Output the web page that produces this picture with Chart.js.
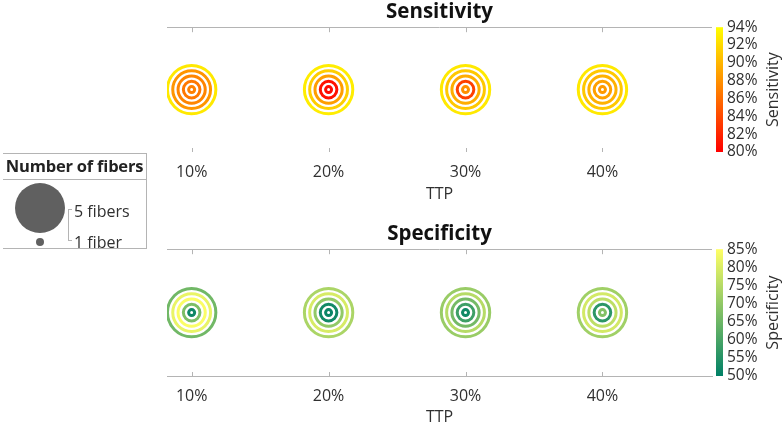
<!DOCTYPE html>
<html>
<head>
<meta charset="utf-8">
<script src="https://cdn.jsdelivr.net/npm/chart.js@4"></script>
<style>
  body { margin: 0; width: 784px; height: 427px; overflow: hidden; background: #fff; font-family: "Open Sans", sans-serif; }
  canvas { position: absolute; left: 0; }
  #sens { top: 0; }
  #spec { top: 222px; }
  #legend { position: absolute; left: 3px; top: 153px; width: 143px; height: 94px;
            border-top: 1px solid #b4b4b4; border-bottom: 1px solid #b4b4b4; border-right: 1px solid #b4b4b4; color: #222; }
  #legend .title { position: absolute; left: -3px; top: 2px; width: 149px; text-align: center; font-weight: bold; font-size: 16.5px; line-height: 20px; letter-spacing: -0.2px; }
  #legend .sep { position: absolute; left: 0; top: 25px; width: 143px; border-top: 1px solid #b4b4b4; }
  #legend .dot { position: absolute; background: #606060; border-radius: 50%; }
  #legend .bracket { position: absolute; left: 65px; top: 55px; width: 3px; height: 30px;
                     border: 1px solid #b4b4b4; border-right: none; }
  #legend .lab { position: absolute; left: 71px; font-size: 16px; line-height: 20px; color: #303030; }
</style>
</head>
<body>
<canvas id="sens" width="784" height="215"></canvas>
<canvas id="spec" width="784" height="205"></canvas>
<div id="legend">
  <div class="title">Number of fibers</div>
  <div class="sep"></div>
  <div class="dot" style="left:12px;top:29px;width:50px;height:50px;"></div>
  <div class="dot" style="left:33px;top:84px;width:8px;height:8px;"></div>
  <div class="bracket"></div>
  <div class="lab" style="top:47px;">5 fibers</div>
  <div class="lab" style="top:78px;">1 fiber</div>
</div>
<script>
const ttp = [10, 20, 30, 40];
const fibers = [1, 2, 3, 4, 5];

// sensitivity (%) per fiber count, one value per TTP
const sens1 = [87.0, 80.6, 87.9, 88.4];
const sens2 = [86.6, 81.0, 83.5, 88.8];
const sens3 = [87.3, 88.7, 89.5, 89.7];
const sens4 = [88.2, 91.3, 91.0, 91.0];
const sens5 = [92.8, 93.0, 92.8, 92.8];

// specificity (%) per fiber count, one value per TTP
const spec1 = [52.0, 51.5, 52.5, 68.0];
const spec2 = [67.0, 52.5, 58.5, 56.0];
const spec3 = [84.5, 70.0, 66.0, 76.0];
const spec4 = [82.0, 79.5, 75.0, 79.0];
const spec5 = [65.5, 73.5, 71.0, 72.0];

const sensTicks = [80, 82, 84, 86, 88, 90, 92, 94];
const specTicks = [50, 55, 60, 65, 70, 75, 80, 85];

const textColor = '#303030';
const lineColor = '#b4b4b4';
const font = '"Open Sans", sans-serif';

function autumn(t) {
  return 'rgb(255,' + Math.round(255 * t) + ',0)';
}
function summer(t) {
  return 'rgb(' + Math.round(255 * t) + ',' + Math.round(128 + 127 * t) + ',102)';
}
function ringRadius(n) {
  return 3 + (n - 1) * 5.3;
}

const colorbar = {
  id: 'colorbar',
  afterDraw(chart, args, opts) {
    const { ctx, chartArea, scales } = chart;
    const cb = scales.cb;
    const top = cb.getPixelForValue(cb.max);
    const bottom = cb.getPixelForValue(cb.min);
    const g = ctx.createLinearGradient(0, bottom, 0, top);
    g.addColorStop(0, opts.cmap(0));
    g.addColorStop(1, opts.cmap(1));
    ctx.save();
    ctx.fillStyle = g;
    ctx.fillRect(chartArea.right + 4, top, 7, bottom - top);

    // frame line on top and small inward ticks
    ctx.strokeStyle = lineColor;
    ctx.lineWidth = 1;
    ctx.beginPath();
    ctx.moveTo(chartArea.left, Math.round(chartArea.top) + 0.5);
    ctx.lineTo(chartArea.right, Math.round(chartArea.top) + 0.5);
    ttp.forEach(v => {
      const x = Math.round(scales.x.getPixelForValue(v)) + 0.5;
      ctx.moveTo(x, chartArea.top);
      ctx.lineTo(x, chartArea.top + 5);
      ctx.moveTo(x, chartArea.bottom);
      ctx.lineTo(x, chartArea.bottom - 4);
    });
    ctx.stroke();

    ctx.translate(773, (top + bottom) / 2);
    ctx.rotate(-Math.PI / 2);
    ctx.fillStyle = textColor;
    ctx.font = '16px ' + font;
    ctx.textAlign = 'center';
    ctx.textBaseline = 'middle';
    ctx.fillText(opts.title, 0, 0);
    ctx.restore();
  }
};

function makeConfig(title, rows, ticks, cmap, axisH, titlePad, showBottom) {
  const lo = ticks[0], hi = ticks[ticks.length - 1];
  const datasets = fibers.map((n, k) => ({
    data: ttp.map(t => ({ x: t, y: 0 })),
    pointRadius: ringRadius(n),
    pointHoverRadius: ringRadius(n),
    pointBorderWidth: 3,
    pointHoverBorderWidth: 3,
    pointBackgroundColor: 'rgba(0,0,0,0)',
    pointBorderColor: rows[k].map(v => cmap((v - lo) / (hi - lo))),
    showLine: false
  }));
  return {
    type: 'scatter',
    data: { datasets: datasets },
    options: {
      responsive: false,
      animation: false,
      events: [],
      layout: { padding: { left: 167, right: 0, top: 0, bottom: 0 } },
      plugins: {
        legend: { display: false },
        tooltip: { enabled: false },
        title: {
          display: true, text: title, fullSize: false, color: '#111',
          font: { family: font, size: 20.5, weight: 'bold', lineHeight: 1.2 },
          padding: { top: 0, bottom: 2.4 }
        },
        colorbar: { cmap: cmap, title: title }
      },
      scales: {
        x: {
          type: 'linear', position: 'bottom', min: 8.2, max: 48,
          grid: { display: false, drawTicks: false },
          border: { display: showBottom, color: lineColor },
          afterBuildTicks: s => { s.ticks = ttp.map(v => ({ value: v })); },
          afterFit: s => { s.height = axisH; },
          ticks: {
            callback: v => v + '%', color: textColor, padding: 11,
            font: { family: font, size: 16 }, maxRotation: 0
          },
          title: {
            display: true, text: 'TTP', color: textColor,
            font: { family: font, size: 16, lineHeight: 1.2 },
            padding: { top: 0, bottom: titlePad }
          }
        },
        y: { display: false, min: -1, max: 1 },
        cb: {
          type: 'linear', position: 'right', min: lo, max: hi,
          grid: { display: false, drawTicks: false },
          border: { display: false },
          afterBuildTicks: s => { s.ticks = ticks.map(v => ({ value: v })); },
          afterFit: s => { s.width = 72; },
          ticks: {
            callback: v => v + '%', color: textColor, padding: 15, autoSkip: false,
            font: { family: font, size: 15.5 }
          }
        }
      }
    },
    plugins: [colorbar]
  };
}

new Chart(document.getElementById('sens'),
  makeConfig('Sensitivity', [sens1, sens2, sens3, sens4, sens5], sensTicks, autumn, 63, 11, false));
new Chart(document.getElementById('spec'),
  makeConfig('Specificity', [spec1, spec2, spec3, spec4, spec5], specTicks, summer, 51, 0, true));
</script>
</body>
</html>
